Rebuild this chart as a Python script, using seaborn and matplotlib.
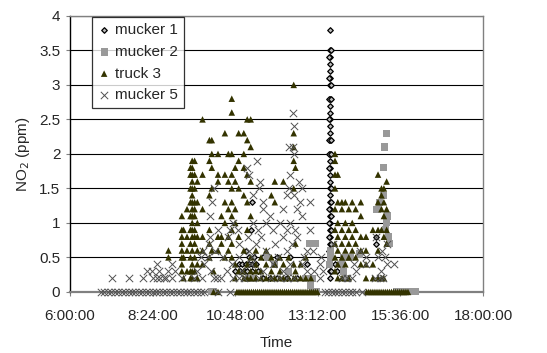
import matplotlib
matplotlib.use("Agg")
import matplotlib.pyplot as plt
import seaborn as sns
import pandas as pd

# time of day in decimal hours, NO2 in ppm
mucker1 = [(13.55, v) for v in [3.8, 3.5, 3.4, 3.3, 3.2, 3.1, 3.0, 2.8, 2.7, 2.6, 2.5, 2.4, 2.3,
                                  2.2, 2.0, 1.9, 1.8, 1.7, 1.6, 1.5, 1.4, 1.3, 1.2, 1.1, 1.0, 0.9,
                                  0.8, 0.7, 0.6, 0.5, 0.4, 0.3, 0.2]]
mucker1 += [(13.52, v) for v in [3.4, 3.1, 2.8, 2.5, 2.2, 2.0, 1.8, 1.2, 1.0, 0.8, 0.6]]
mucker1 += [(13.58, v) for v in [3.5, 3.0, 2.8, 2.2, 2.0, 1.5, 1.3, 1.1, 0.9, 0.7, 0.5, 0.3]]
mucker1 += [(11.3, 1.3), (11.25, 0.9), (11.1, 0.6), (11.2, 0.5), (11.35, 0.5), (10.9, 0.4),
            (11.0, 0.4), (11.1, 0.4), (11.2, 0.4), (11.3, 0.4), (11.4, 0.4), (10.8, 0.3),
            (10.95, 0.3), (11.05, 0.3), (11.15, 0.3), (11.3, 0.3), (11.45, 0.3), (11.6, 0.5),
            (12.0, 0.5), (12.4, 0.5), (13.7, 0.4), (13.75, 0.3), (14.9, 0.8), (14.9, 0.7),
            (11.6, 0.2), (11.8, 0.2), (12.0, 0.2), (12.3, 0.2), (12.6, 0.2), (12.9, 0.4),
            (13.0, 0.2)]

mucker2 = [(10.1, 0.0), (10.18, 0.0), (11.2, 0.2), (11.3, 0.2), (11.75, 0.5), (11.95, 0.4),
           (12.35, 0.3), (12.85, 0.2), (12.95, 0.2), (13.0, 0.1), (13.05, 0.2), (12.95, 0.7),
           (13.05, 0.7), (13.12, 0.7), (13.56, 0.6), (13.58, 0.5), (13.55, 0.4), (13.9, 0.4),
           (13.95, 0.3), (14.0, 0.2), (13.95, 0.5), (14.15, 0.5), (14.42, 0.55), (14.92, 1.2),
           (14.98, 1.3), (15.1, 1.4), (15.12, 1.8), (15.15, 2.1), (15.2, 2.3), (15.22, 1.1),
           (15.2, 1.0), (15.18, 0.9), (15.28, 0.7), (15.25, 0.8), (13.05, 0.0), (13.15, 0.0),
           (15.5, 0.0), (15.6, 0.0), (15.7, 0.0), (15.8, 0.0), (15.9, 0.0), (16.0, 0.0),
           (16.05, 0.0)]

truck3_cols = [
    (8.86, [0.6, 0.5]),
    (9.25, [1.1, 0.9, 0.8, 0.7, 0.6, 0.5, 0.4, 0.3]),
    (9.30, [0.9, 0.5, 0.2]),
    (9.40, [1.2, 0.8, 0.6, 0.3]),
    (9.50, [1.8, 1.7, 1.5, 1.3, 1.1, 0.9, 0.7, 0.5, 0.3, 0.2]),
    (9.55, [1.9, 1.8, 1.7, 1.6, 1.5, 1.4, 1.3, 1.2, 1.1, 1.0, 0.9, 0.8, 0.6, 0.4, 0.3, 0.2]),
    (9.62, [1.9, 1.7, 1.5, 1.3, 1.2, 1.1, 0.9, 0.8, 0.7, 0.5, 0.3]),
    (9.70, [1.6, 1.3, 1.0, 0.8, 0.6, 0.4, 0.2]),
    (9.85, [2.5, 1.7, 1.2, 0.8, 0.6, 0.4]),
    (10.05, [2.2, 1.9, 1.4, 0.9, 0.7, 0.5]),
    (10.12, [2.2, 2.0, 1.8, 1.5, 0.6]),
    (10.17, [0.0, 0.3]),
    (10.30, [2.0, 1.7, 1.6, 0.8, 0.6, 0.0]),
    (10.40, [1.1, 0.8, 0.7]),
    (10.50, [2.3, 1.7, 1.3, 1.0, 0.5]),
    (10.60, [2.0, 1.6, 1.2, 0.8, 0.6]),
    (10.70, [2.8, 2.6, 2.0, 1.7, 1.5, 1.3, 1.1, 0.9, 0.7, 0.5]),
    (10.80, [1.8, 1.6, 1.2, 1.0, 0.4, 0.2]),
    (10.90, [2.3, 1.9, 1.5, 0.8, 0.3]),
    (11.05, [2.3, 2.0, 1.8, 1.4, 0.6, 0.3, 0.2]),
    (11.15, [2.5, 2.2, 1.7, 1.3, 0.9, 0.4, 0.2]),
    (11.25, [2.5, 2.1, 1.6, 1.1, 0.5, 0.3, 0.2]),
    (11.40, [0.6, 0.4, 0.3, 0.2]),
    (11.55, [0.5, 0.3, 0.2]),
    (11.70, [0.6, 0.4, 0.2]),
    (11.85, [1.4, 0.5, 0.3, 0.2]),
    (11.95, [1.6, 1.3, 0.4, 0.2]),
    (12.10, [0.5, 0.3, 0.2]),
    (12.20, [1.6, 0.4, 0.2]),
    (12.35, [0.5, 0.2]),
    (12.50, [3.0, 2.3, 2.1, 1.9, 1.5, 0.4, 0.2]),
    (12.55, [1.8, 0.7, 0.3, 0.2]),
    (12.70, [0.4, 0.2]),
    (12.85, [0.5, 0.2]),
    (13.00, [0.2]),
    (13.70, [2.0, 1.9, 1.7, 1.5, 1.2, 0.9, 0.7, 0.5, 0.3]),
    (13.78, [1.7, 1.3, 1.0, 0.8, 0.6, 0.4, 0.2]),
    (13.90, [1.3, 1.2, 0.9, 0.7, 0.5, 0.2]),
    (14.00, [1.3, 1.0, 0.8, 0.6, 0.4]),
    (14.10, [1.2, 0.9, 0.7, 0.5, 0.2]),
    (14.20, [1.3, 1.0, 0.8, 0.6]),
    (14.30, [1.2, 0.9, 0.7, 0.5]),
    (14.45, [1.3, 1.1, 0.8, 0.6, 0.4]),
    (14.60, [0.8, 0.6, 0.4, 0.2]),
    (14.80, [0.9, 0.4, 0.2]),
    (14.95, [1.7, 1.3, 0.9, 0.6, 0.2]),
    (15.05, [1.5, 1.4, 1.2, 0.9, 0.2]),
    (15.12, [1.5, 1.3, 1.1, 0.8, 0.2]),
    (15.20, [1.6, 1.2, 0.9, 0.7]),
]
truck3_zero_times = [10.85, 10.91, 10.97, 11.03, 11.09, 11.15, 11.21, 11.27, 11.33, 11.39,
                     11.45, 11.51, 11.57, 11.63, 11.69, 11.75, 11.81, 11.87, 11.93, 11.99,
                     12.05, 12.11, 12.17, 12.23, 12.29, 12.35, 12.41, 12.47, 12.53, 12.59,
                     12.65, 12.71, 12.77, 12.83, 12.89, 12.95, 13.01, 13.07, 13.13, 13.19,
                     14.62, 14.68, 14.74, 14.80, 14.86, 14.92, 14.98, 15.04, 15.10, 15.16,
                     15.22, 15.28, 15.34, 15.40, 15.46, 15.52, 15.58, 15.64, 15.70, 15.76,
                     15.82]

mucker5_rows = [
    (0.0, [6.9, 7.0, 7.1, 7.2, 7.3, 7.4, 7.5, 7.6, 7.7, 7.8, 7.9, 8.0, 8.1, 8.2, 8.3, 8.4,
           8.5, 8.6, 8.7, 8.8, 8.9, 9.0, 9.1, 9.2, 9.3, 9.4, 9.5, 9.6, 9.7, 9.8, 9.9,
           10.31, 10.65, 13.42, 13.5, 13.6, 13.7, 13.8, 13.9, 14.0, 14.1, 14.2, 14.3, 14.48]),
    (0.2, [7.21, 7.70, 8.13, 8.42, 8.52, 8.62, 8.72, 8.80, 8.96, 9.25, 9.60, 9.83, 10.17,
           10.26, 10.40, 10.75, 10.90, 11.05, 11.5, 11.85, 12.1, 12.3, 12.5, 13.27, 13.9,
           14.05, 14.2, 14.85, 15.0, 15.1]),
    (0.3, [8.25, 8.38, 8.6, 8.86, 9.05, 9.7, 10.1, 10.55, 11.0, 11.6, 12.2, 12.9, 13.1,
           13.35, 14.3, 15.05]),
    (0.4, [8.52, 8.96, 9.9, 10.7, 11.25, 11.9, 12.4, 12.75, 13.27, 14.24, 14.6, 15.21, 15.4]),
    (0.5, [9.8, 10.0, 10.45, 10.9, 11.3, 12.05, 12.8, 13.3, 14.6, 14.95, 15.16]),
    (0.6, [9.85, 10.2, 11.2, 11.7, 12.3, 12.9, 13.07, 14.43, 15.06]),
    (0.7, [10.05, 10.9, 11.4, 11.95, 12.45, 13.65, 15.2]),
    (0.8, [10.07, 10.6, 11.18, 11.55, 12.2, 12.6, 14.9]),
    (0.9, [10.31, 10.65, 10.89, 11.45, 11.9, 12.3, 12.55, 12.98]),
    (1.0, [10.75, 11.33, 11.7, 12.1, 12.4]),
    (1.1, [10.07, 11.8, 12.75]),
    (1.2, [11.6, 12.2, 12.6]),
    (1.3, [10.12, 11.62, 12.69, 12.98]),
    (1.4, [11.33, 12.3, 12.5]),
    (1.5, [10.17, 11.48, 12.35, 12.73]),
    (1.6, [11.52, 12.66]),
    (1.7, [11.2, 12.4]),
    (1.8, [11.15]),
    (1.9, [11.43]),
    (2.0, [12.5]),
    (2.1, [12.35, 12.48]),
    (2.4, [12.5]),
    (2.6, [12.49]),
]

tick_hours = [6, 8.4, 10.8, 13.2, 15.6, 18]
tick_labels = ["6:00:00", "8:24:00", "10:48:00", "13:12:00", "15:36:00", "18:00:00"]

truck3 = [(t, v) for t, vals in truck3_cols for v in vals]
truck3 += [(t, 0.0) for t in truck3_zero_times]
mucker5 = [(t, v) for v, times in mucker5_rows for t in times]

sns.set_style("white")
plt.rcParams['font.family'] = ['Liberation Sans', 'DejaVu Sans']

fig = plt.figure(figsize=(5.47, 3.53), dpi=100)
ax = fig.add_axes([0.128, 0.173, 0.755, 0.782])

for yv in [0.5, 1, 1.5, 2, 2.5, 3, 3.5, 4]:
    ax.axhline(yv, color='black', lw=0.8, zorder=0)

series = [
    ("mucker 1", mucker1, dict(marker='D', s=8, facecolor='#bbbbbb', edgecolor='black', linewidth=0.9)),
    ("mucker 2", mucker2, dict(marker='s', s=26, color='#999999', edgecolor='none')),
    ("truck 3", truck3, dict(marker='^', s=22, color='#333300', edgecolor='none')),
    ("mucker 5", mucker5, dict(marker='x', s=28, color='#505050', linewidth=0.7)),
]
for name, pts, kw in series:
    df = pd.DataFrame(pts, columns=['time', 'no2'])
    sns.scatterplot(data=df, x='time', y='no2', ax=ax, label=name, clip_on=False, zorder=3, **kw)

ax.set_xlim(6, 18)
ax.set_ylim(0, 4)
ax.set_xticks(tick_hours)
ax.set_xticklabels(tick_labels)
ax.set_yticks([0, 0.5, 1, 1.5, 2, 2.5, 3, 3.5, 4])
ax.set_yticklabels(['0', '0.5', '1', '1.5', '2', '2.5', '3', '3.5', '4'])
ax.tick_params(axis='both', labelsize=11, length=3, width=0.8, color='#808080', direction='out')
ax.tick_params(axis='x', pad=9)
ax.tick_params(axis='y', left=True, pad=4)
ax.tick_params(axis='x', bottom=True)
for sp in ax.spines.values():
    sp.set_color('#808080')
    sp.set_linewidth(1.0)
ax.spines['left'].set_color('black')
ax.spines['bottom'].set_linewidth(1.6)

ax.set_xlabel('Time', fontsize=11, labelpad=10)
ax.set_ylabel('NO$_2$ (ppm)', fontsize=11, labelpad=5)

leg = ax.legend(loc='upper left', bbox_to_anchor=(0.053, 0.995), borderaxespad=0,
                frameon=True, fancybox=False, edgecolor='black', fontsize=11,
                handlelength=0.8, handletextpad=0.3, borderpad=0.4, labelspacing=0.5)
leg.get_frame().set_linewidth(0.9)

fig.savefig('out.png', dpi=100)
